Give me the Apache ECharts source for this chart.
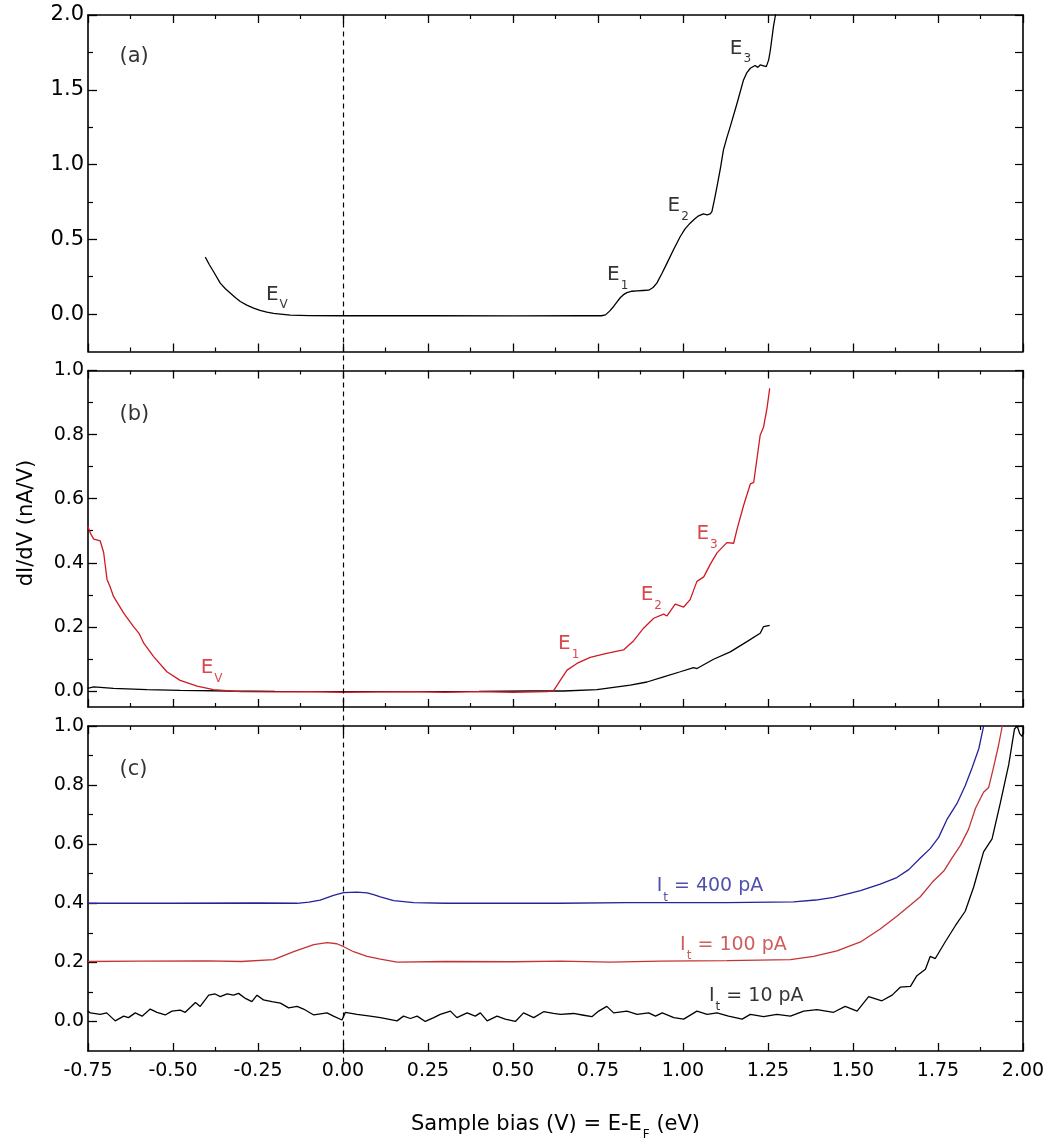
<!DOCTYPE html>
<html><head><meta charset="utf-8">
<script src="https://cdn.jsdelivr.net/npm/echarts@6/dist/echarts.min.js"></script>
<style>html,body{margin:0;padding:0;background:#fff}#c{width:1052px;height:1142px}</style>
</head><body><div id="c"></div>
<script>
// ---------- DATA ----------
// shared x axis (sample bias, V)
const xMin = -0.75, xMax = 2.0, xStep = 0.25;

// panel (a)
const aMajorTicks = [0, 0.5, 1.0, 1.5, 2.0];
const aMinorTicks = [0.25, 0.75, 1.25, 1.75];
const aCurve = [[-0.405,0.381],[-0.393,0.330],[-0.381,0.285],[-0.361,0.207],[-0.346,0.170],[-0.331,0.140],[-0.316,0.110],[-0.302,0.084],[-0.283,0.060],[-0.263,0.040],[-0.244,0.025],[-0.224,0.013],[-0.204,0.005],[-0.184,0.0],[-0.155,-0.007],[-0.10,-0.010],[0.0,-0.011],[0.25,-0.011],[0.5,-0.012],[0.70,-0.011],[0.760,-0.011],[0.772,-0.005],[0.784,0.020],[0.796,0.051],[0.806,0.082],[0.816,0.111],[0.825,0.130],[0.835,0.144],[0.850,0.153],[0.865,0.156],[0.882,0.158],[0.899,0.160],[0.912,0.178],[0.923,0.207],[0.938,0.272],[0.953,0.341],[0.972,0.430],[0.992,0.519],[1.006,0.570],[1.021,0.608],[1.034,0.636],[1.046,0.657],[1.060,0.670],[1.071,0.664],[1.080,0.670],[1.085,0.686],[1.092,0.760],[1.100,0.853],[1.110,0.975],[1.119,1.098],[1.129,1.180],[1.139,1.254],[1.159,1.410],[1.178,1.566],[1.188,1.615],[1.198,1.644],[1.212,1.662],[1.220,1.650],[1.227,1.666],[1.245,1.655],[1.252,1.700],[1.257,1.766],[1.266,1.922],[1.272,2.0],[1.276,2.1]];
const aLabelPos = [[-0.228,0.132],[0.775,0.263],[0.953,0.725],[1.136,1.777]];
const aLabelSub = ['V','1','2','3'];

// panel (b)
const bMajorTicks = [0, 0.2, 0.4, 0.6, 0.8, 1.0];
const bMinorTicks = [0.1, 0.3, 0.5, 0.7, 0.9];
const bRed = [[-0.751,0.515],[-0.742,0.490],[-0.733,0.474],[-0.714,0.468],[-0.704,0.432],[-0.694,0.348],[-0.685,0.325],[-0.675,0.295],[-0.645,0.243],[-0.616,0.201],[-0.600,0.180],[-0.586,0.149],[-0.557,0.107],[-0.518,0.060],[-0.479,0.033],[-0.429,0.015],[-0.381,0.004],[-0.302,-0.002],[-0.2,-0.003],[-0.1,-0.002],[0,-0.004],[0.1,-0.003],[0.2,-0.002],[0.3,-0.004],[0.4,-0.002],[0.5,-0.004],[0.6,-0.002],[0.619,0.0],[0.639,0.033],[0.659,0.065],[0.688,0.086],[0.727,0.105],[0.766,0.115],[0.796,0.122],[0.825,0.128],[0.855,0.157],[0.884,0.196],[0.914,0.227],[0.943,0.240],[0.953,0.234],[0.977,0.271],[1.002,0.262],[1.021,0.285],[1.041,0.342],[1.061,0.356],[1.080,0.395],[1.100,0.431],[1.129,0.463],[1.149,0.461],[1.159,0.505],[1.178,0.578],[1.198,0.646],[1.208,0.651],[1.227,0.798],[1.237,0.824],[1.247,0.882],[1.255,0.944]];
const bBlack = [[-0.751,0.008],[-0.733,0.013],[-0.675,0.008],[-0.577,0.004],[-0.479,0.002],[-0.331,0.0],[-0.2,-0.001],[0,-0.002],[0.2,-0.002],[0.4,-0.001],[0.551,0.0],[0.649,0.0],[0.747,0.004],[0.796,0.011],[0.845,0.018],[0.894,0.028],[0.943,0.044],[0.992,0.060],[1.031,0.073],[1.041,0.070],[1.090,0.099],[1.139,0.122],[1.188,0.154],[1.227,0.180],[1.237,0.201],[1.255,0.205]];
const bLabelPos = [[-0.420,0.073],[0.631,0.146],[0.874,0.301],[1.038,0.491]];
const bLabelSub = ['V','1','2','3'];

// panel (c)
const cMajorTicks = [0, 0.2, 0.4, 0.6, 0.8, 1.0];
const cMinorTicks = [0.1, 0.3, 0.5, 0.7, 0.9];
const cBlue = [[-0.75,0.400],[-0.5,0.400],[-0.25,0.401],[-0.135,0.400],[-0.100,0.404],[-0.067,0.411],[-0.028,0.427],[0.002,0.436],[0.041,0.438],[0.071,0.435],[0.090,0.429],[0.110,0.422],[0.149,0.409],[0.208,0.402],[0.3,0.400],[0.5,0.400],[0.639,0.400],[0.835,0.402],[1.129,0.402],[1.325,0.405],[1.390,0.411],[1.443,0.420],[1.522,0.443],[1.580,0.465],[1.629,0.487],[1.664,0.514],[1.698,0.553],[1.727,0.585],[1.752,0.623],[1.776,0.683],[1.806,0.738],[1.830,0.798],[1.850,0.858],[1.870,0.923],[1.884,0.999],[1.890,1.040]];
const cRed = [[-0.75,0.203],[-0.6,0.204],[-0.4,0.205],[-0.3,0.203],[-0.204,0.209],[-0.145,0.236],[-0.086,0.260],[-0.047,0.267],[-0.018,0.263],[0.002,0.253],[0.031,0.236],[0.071,0.220],[0.110,0.211],[0.159,0.201],[0.3,0.203],[0.5,0.202],[0.639,0.204],[0.786,0.201],[0.933,0.204],[1.129,0.206],[1.316,0.209],[1.384,0.220],[1.453,0.239],[1.522,0.269],[1.580,0.313],[1.629,0.356],[1.669,0.394],[1.698,0.422],[1.733,0.471],[1.767,0.509],[1.791,0.553],[1.816,0.596],[1.840,0.651],[1.860,0.721],[1.884,0.776],[1.899,0.792],[1.913,0.858],[1.928,0.934],[1.939,1.0],[1.945,1.05]];
const cBlack = [[-0.751,0.035],[-0.743,0.029],[-0.714,0.024],[-0.695,0.029],[-0.670,0.002],[-0.645,0.018],[-0.631,0.013],[-0.611,0.029],[-0.591,0.018],[-0.567,0.042],[-0.547,0.031],[-0.523,0.022],[-0.503,0.035],[-0.479,0.038],[-0.464,0.031],[-0.434,0.064],[-0.420,0.051],[-0.395,0.089],[-0.376,0.093],[-0.361,0.084],[-0.341,0.093],[-0.322,0.089],[-0.307,0.095],[-0.287,0.078],[-0.268,0.067],[-0.253,0.089],[-0.234,0.073],[-0.209,0.067],[-0.184,0.062],[-0.160,0.046],[-0.135,0.051],[-0.116,0.042],[-0.086,0.022],[-0.047,0.029],[-0.028,0.018],[-0.003,0.005],[0.007,0.031],[0.041,0.024],[0.080,0.018],[0.110,0.013],[0.159,0.002],[0.178,0.018],[0.198,0.010],[0.218,0.018],[0.242,0.0],[0.267,0.013],[0.286,0.024],[0.316,0.035],[0.335,0.013],[0.365,0.029],[0.389,0.018],[0.404,0.029],[0.424,0.002],[0.453,0.018],[0.477,0.008],[0.507,0.0],[0.531,0.029],[0.561,0.013],[0.590,0.033],[0.619,0.027],[0.639,0.024],[0.678,0.027],[0.708,0.021],[0.732,0.016],[0.752,0.035],[0.776,0.051],[0.796,0.029],[0.835,0.035],[0.865,0.024],[0.899,0.029],[0.919,0.018],[0.939,0.029],[0.973,0.013],[1.002,0.008],[1.041,0.035],[1.071,0.024],[1.100,0.029],[1.134,0.018],[1.174,0.008],[1.198,0.024],[1.237,0.016],[1.276,0.024],[1.316,0.018],[1.355,0.035],[1.394,0.040],[1.443,0.031],[1.477,0.051],[1.512,0.035],[1.546,0.084],[1.585,0.070],[1.615,0.089],[1.639,0.116],[1.669,0.119],[1.688,0.155],[1.713,0.177],[1.727,0.220],[1.742,0.213],[1.771,0.269],[1.801,0.324],[1.830,0.373],[1.855,0.455],[1.884,0.574],[1.909,0.618],[1.933,0.738],[1.958,0.869],[1.975,0.990],[1.983,1.0],[1.990,0.975],[1.997,0.965],[2.0,0.975]];
const cLabelPos = [[0.921,0.457],[0.990,0.258],[1.075,0.087]];
const cLabelText = ['400 pA','100 pA','10 pA'];

const panelLetterPos = [[-0.659,1.72],[-0.659,0.862],[-0.659,0.854]];
const panelLetters = ['(a)','(b)','(c)'];
const yRanges = [[-0.25,2.0,0.25],[-0.05,1.0,0.05],[-0.1,1.0,0.1]];

// ---------- STYLE ----------
const FONT = 'DejaVu Sans';
const RED = '#d01a22', RED2 = '#c43434', BLUE = '#23239a', BLACK = '#000';
const L = 88, R = 29, H = 336.5;
const tops = [15, 370.5, 726];
const AXW = 1.6;

const grids = tops.map(t => ({left: L, right: R, top: t, height: H}));
grids.push({left: L, right: R, top: 15, height: 726 + H - 15});

const xAxes = [];
for (let i = 0; i < 3; i++) {
  for (const pos of ['bottom','top']) {
    xAxes.push({
      type: 'value', gridIndex: i, position: pos, min: xMin, max: xMax, interval: xStep,
      axisLine: {show: true, onZero: false, lineStyle: {color: BLACK, width: AXW}},
      axisTick: {show: true, inside: true, length: 8, lineStyle: {color: BLACK, width: 1.3}},
      minorTick: {show: true, splitNumber: 2, length: 4, lineStyle: {color: BLACK, width: 1.2}},
      splitLine: {show: false}, minorSplitLine: {show: false},
      axisLabel: {show: i === 2 && pos === 'bottom', margin: 11, color: BLACK, fontFamily: FONT, fontSize: 19,
        formatter: v => v.toFixed(2)},
      name: (i === 2 && pos === 'bottom') ? '{n|Sample bias (V) = E-E}{s|F}{n| (eV)}' : '',
      nameLocation: 'middle', nameGap: 58,
      nameTextStyle: {rich: {n: {fontFamily: FONT, fontSize: 21, color: BLACK},
                             s: {fontFamily: FONT, fontSize: 12, color: BLACK, padding: [20, 0, 0, 1]}}}
    });
  }
}
xAxes.push({type: 'value', gridIndex: 3, min: xMin, max: xMax, show: false});

const majors = [aMajorTicks, bMajorTicks, cMajorTicks];
const minors = [aMinorTicks, bMinorTicks, cMinorTicks];
const yAxes = [];
for (let i = 0; i < 3; i++) {
  const [mn, mx, st] = yRanges[i];
  const base = {type: 'value', gridIndex: i, min: mn, max: mx, interval: st,
    splitLine: {show: false}, minorTick: {show: false}};
  yAxes.push(Object.assign({}, base, {
    position: 'left',
    axisLine: {show: true, onZero: false, lineStyle: {color: BLACK, width: AXW}},
    axisTick: {show: true, inside: true, length: 9, customValues: majors[i], lineStyle: {color: BLACK, width: 1.3}},
    axisLabel: {show: true, customValues: majors[i], margin: 4, color: BLACK, fontFamily: FONT,
      fontSize: i === 0 ? 21 : 19, formatter: v => v.toFixed(1)}
  }));
  yAxes.push(Object.assign({}, base, {
    position: 'left',
    axisLine: {show: false, onZero: false},
    axisTick: {show: true, inside: true, length: 5, customValues: minors[i], lineStyle: {color: BLACK, width: 1.2}},
    axisLabel: {show: false}
  }));
  yAxes.push(Object.assign({}, base, {
    position: 'right',
    axisLine: {show: true, onZero: false, lineStyle: {color: BLACK, width: AXW}},
    axisTick: {show: true, inside: true, length: 8,
      customValues: majors[i].concat(minors[i]).sort((p, q) => p - q), lineStyle: {color: BLACK, width: 1.2}},
    axisLabel: {show: false}
  }));
}
yAxes.push({type: 'value', gridIndex: 3, min: 0, max: 1, show: false});

function curve(data, panel, color) {
  return {type: 'line', data: data, xAxisIndex: panel * 2, yAxisIndex: panel * 3,
    symbol: 'none', showSymbol: false, clip: true, z: 3,
    lineStyle: {color: color, width: 1.3}, animation: false, silent: true};
}
const eRich = color => ({
  e: {fontFamily: FONT, fontSize: 20, color: color},
  s: {fontFamily: FONT, fontSize: 12, color: color, padding: [22, 0, 0, 1]}
});
function labels(panel, pos, names, fmt, colors) {
  return {type: 'scatter', xAxisIndex: panel * 2, yAxisIndex: panel * 3, symbolSize: 1,
    itemStyle: {color: 'rgba(0,0,0,0)'}, silent: true, animation: false, z: 5,
    data: pos.map((p, k) => ({value: p, name: names[k],
      label: {show: true, position: 'right', distance: 0, formatter: fmt,
        rich: eRich(Array.isArray(colors) ? colors[k] : colors)}}))};
}

const series = [
  curve(aCurve, 0, BLACK),
  curve(bBlack, 1, BLACK),
  curve(bRed, 1, RED),
  curve(cBlack, 2, BLACK),
  curve(cRed, 2, RED2),
  curve(cBlue, 2, BLUE),
  labels(0, aLabelPos, aLabelSub, p => '{e|E}{s|' + p.name + '}', BLACK),
  labels(1, bLabelPos, bLabelSub, p => '{e|E}{s|' + p.name + '}', RED),
  {type: 'scatter', xAxisIndex: 4, yAxisIndex: 6, symbolSize: 1, itemStyle: {color: 'rgba(0,0,0,0)'},
   silent: true, animation: false, z: 5,
   data: cLabelPos.map((p, k) => ({value: p, name: cLabelText[k],
     label: {show: true, position: 'right', distance: 0, formatter: q => '{e|I}{s|t}{e| = ' + q.name + '}',
       rich: {e: {fontFamily: FONT, fontSize: 19, color: [BLUE, RED2, BLACK][k]},
              s: {fontFamily: FONT, fontSize: 12, color: [BLUE, RED2, BLACK][k], padding: [22, 0, 0, 1]}}}}))}
];
for (let i = 0; i < 3; i++) {
  series.push({type: 'scatter', xAxisIndex: i * 2, yAxisIndex: i * 3, symbolSize: 1,
    itemStyle: {color: 'rgba(0,0,0,0)'}, silent: true, animation: false,
    data: [{value: panelLetterPos[i], name: panelLetters[i]}],
    label: {show: true, position: 'right', distance: 0, formatter: p => p.name,
      fontFamily: FONT, fontSize: 21, color: BLACK}});
}
// dashed zero-bias line through all panels
series.push({type: 'line', xAxisIndex: 6, yAxisIndex: 9, data: [[0, 0.5]], symbol: 'none',
  lineStyle: {opacity: 0}, animation: false, silent: true,
  markLine: {silent: true, symbol: ['none', 'none'], label: {show: false}, animation: false,
    lineStyle: {color: BLACK, type: [5, 4], width: 1.2}, data: [{xAxis: 0}]}});

const chart = echarts.init(document.getElementById('c'), null, {renderer: 'canvas'});
chart.setOption({
  backgroundColor: '#fff',
  animation: false,
  grid: grids, xAxis: xAxes, yAxis: yAxes, series: series,
  graphic: [{type: 'text', x: 27, y: 523, rotation: Math.PI / 2,
    style: {text: 'dI/dV (nA/V)', font: '21px "DejaVu Sans"', fill: BLACK, align: 'center', verticalAlign: 'middle'}}]
});
</script></body></html>
